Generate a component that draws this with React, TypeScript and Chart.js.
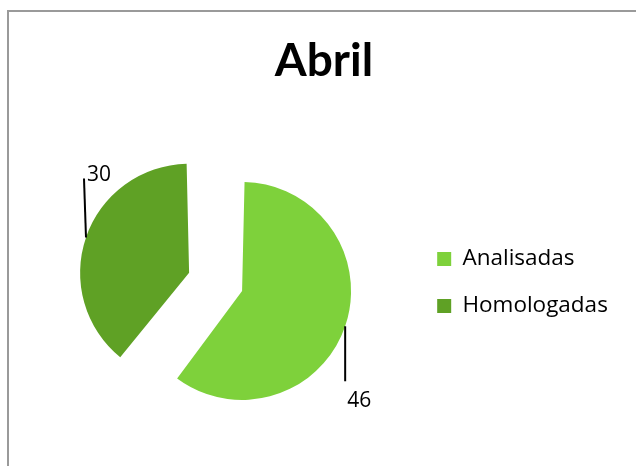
import { useEffect, useRef } from "react";
import { Chart, registerables } from "chart.js";

Chart.register(...registerables);

const categories = ["Analisadas", "Homologadas"];
const values = [46, 30];
const colors = ["#7ED13B", "#5FA125"];
const chartTitle = "Abril";
const TITLE_FONT = "Lato, 'Open Sans', sans-serif";
const FONT = "'Open Sans', Lato, sans-serif";

const framePlugin = {
  id: "frame",
  beforeDraw(chart: any) {
    const { ctx } = chart;
    ctx.save();
    ctx.fillStyle = "#ffffff";
    ctx.fillRect(0, 0, chart.width, chart.height);
    ctx.strokeStyle = "#9a9a9a";
    ctx.lineWidth = 2;
    ctx.beginPath();
    ctx.moveTo(chart.width + 5, 11);
    ctx.lineTo(8, 11);
    ctx.lineTo(8, chart.height + 5);
    ctx.stroke();
    ctx.restore();
  },
};

const labelPlugin = {
  id: "leaderLabels",
  afterDatasetsDraw(chart: any) {
    const { ctx } = chart;
    const meta = chart.getDatasetMeta(0);
    const ds = chart.data.datasets[0];
    ctx.save();
    ctx.font = `21px ${FONT}`;
    ctx.fillStyle = "#000";
    ctx.strokeStyle = "#000";
    ctx.lineWidth = 2;
    meta.data.forEach((arc: any, i: number) => {
      const p = arc.getProps(["x", "y", "outerRadius", "startAngle", "endAngle", "circumference"], true);
      const off = (arc.options.offset || 0) / 4;
      const half = (p.startAngle + p.endAngle) / 2;
      const fix = 1 - Math.sin(Math.min(Math.PI, p.circumference || 0));
      const cx = p.x + Math.cos(half) * off;
      const cy = p.y + Math.sin(half) * off;
      const r = p.outerRadius + off * fix;
      const a = i === 0 ? 0.33 : Math.PI + 0.33;
      const px = cx + Math.cos(a) * r;
      const py = cy + Math.sin(a) * r;
      const text = String(ds.data[i]);
      ctx.beginPath();
      if (i === 0) {
        const ey = py + 55;
        ctx.moveTo(px, py);
        ctx.lineTo(px, ey);
        ctx.stroke();
        ctx.textAlign = "center";
        ctx.textBaseline = "middle";
        ctx.fillText(text, px + 14, ey + 20);
      } else {
        const ey = py - 59;
        ctx.moveTo(px, py);
        ctx.lineTo(px - 2, ey);
        ctx.stroke();
        ctx.textAlign = "left";
        ctx.textBaseline = "middle";
        ctx.fillText(text, px + 1, ey - 3);
      }
    });
    ctx.restore();
  },
};

export default function App() {
  const ref = useRef<HTMLCanvasElement>(null);
  useEffect(() => {
    if (!ref.current) return;
    const chart = new Chart(ref.current, {
      type: "pie",
      data: {
        labels: categories,
        datasets: [
          {
            data: values,
            backgroundColor: colors,
            borderWidth: 0,
            offset: [62.3, 161.7],
          },
        ],
      },
      options: {
        animation: false,
        responsive: false,
        rotation: 0,
        radius: 93.4,
        layout: { padding: { left: 30.15, right: 18.15, top: 10, bottom: 84.2 } },
        plugins: {
          title: {
            display: true,
            text: chartTitle,
            color: "#000",
            font: { family: TITLE_FONT, size: 46, weight: "bold", lineHeight: 1.2 },
            padding: { top: 23.4, bottom: 101.4 },
          },
          subtitle: {
            display: true,
            position: "left",
            text: " ",
            font: { size: 1, lineHeight: 1 },
            padding: { top: 5.4, bottom: 5.45 },
          },
          legend: {
            position: "right",
            fullSize: false,
            align: "start",
            maxWidth: 320,
            title: {
              display: true,
              text: " ",
              font: { size: 10, lineHeight: 1 },
              padding: 11.625,
            },
            labels: {
              color: "#000",
              font: { family: FONT, size: 22.5 },
              boxWidth: 14,
              boxHeight: 14,
              padding: 24.5,
            },
          },
          tooltip: { enabled: false },
        },
      },
      plugins: [framePlugin, labelPlugin],
    });
    return () => chart.destroy();
  }, []);
  return (
    <div style={{ position: "fixed", left: 0, top: 0, width: 636, height: 466 }}>
      <canvas ref={ref} width={636} height={466} style={{ display: "block" }} />
    </div>
  );
}
